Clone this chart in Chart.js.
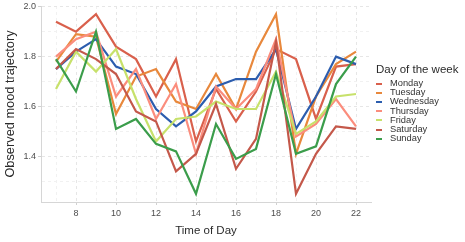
<!DOCTYPE html>
<html>
<head>
<meta charset="utf-8">
<script src="https://cdn.jsdelivr.net/npm/chart.js@4/dist/chart.umd.min.js"></script>
<style>
  html, body { margin: 0; padding: 0; background: #fff; }
  #wrap { position: relative; width: 465px; height: 242px; }
  #legend { position: absolute; left: 376px; top: 62px; font-family: 'Liberation Sans', Arial, sans-serif; color: #2b2b2b; }
  #legend .title { font-size: 11.5px; line-height: 14px; margin-bottom: 3px; }
  #legend .item { font-size: 9.3px; line-height: 9.2px; height: 9.2px; display: flex; align-items: center; color: #333; }
  #legend .key { width: 6px; height: 2px; margin-right: 8px; }
</style>
</head>
<body>
<div id="wrap">
  <canvas id="mood" width="465" height="242"></canvas>
  <div id="legend"></div>
</div>
<script>
// hours of the day on the x axis
const hours = [7, 8, 9, 10, 11, 12, 13, 14, 15, 16, 17, 18, 19, 20, 21, 22];
const days = ['Monday', 'Tuesday', 'Wednesday', 'Thursday', 'Friday', 'Saturday', 'Sunday'];
const dayColors = ['#d9604c', '#e8883c', '#2c5dae', '#fb8d7d', '#c7e16b', '#c4584a', '#3b9d4b'];

// observed mood trajectory per day
const monday    = [1.94, 1.90, 1.97, 1.84, 1.79, 1.64, 1.79, 1.46, 1.67, 1.54, 1.66, 1.83, 1.79, 1.55, 1.76, 1.77];
const tuesday   = [1.78, 1.89, 1.88, 1.57, 1.72, 1.75, 1.62, 1.59, 1.73, 1.59, 1.82, 1.97, 1.41, 1.64, 1.77, 1.82];
const wednesday = [1.75, 1.82, 1.87, 1.76, 1.73, 1.59, 1.52, 1.58, 1.68, 1.71, 1.71, 1.83, 1.51, 1.64, 1.80, 1.77];
const thursday  = [1.80, 1.87, 1.90, 1.64, 1.75, 1.55, 1.69, 1.41, 1.68, 1.59, 1.67, 1.87, 1.48, 1.53, 1.63, 1.52];
const friday    = [1.67, 1.82, 1.74, 1.83, 1.63, 1.46, 1.55, 1.56, 1.62, 1.59, 1.59, 1.74, 1.49, 1.54, 1.64, 1.65];
const saturday  = [1.75, 1.83, 1.79, 1.73, 1.58, 1.54, 1.34, 1.41, 1.61, 1.35, 1.47, 1.86, 1.25, 1.41, 1.52, 1.51];
const sunday    = [1.79, 1.66, 1.90, 1.51, 1.55, 1.45, 1.42, 1.25, 1.53, 1.39, 1.43, 1.73, 1.41, 1.44, 1.69, 1.80];
const series = [monday, tuesday, wednesday, thursday, friday, saturday, sunday];

// axis ticks (majors get labels, minors only a grid line)
const xTicks = [7, 8, 9, 10, 11, 12, 13, 14, 15, 16, 17, 18, 19, 20, 21, 22];
const yTicks = [1.3, 1.4, 1.5, 1.6, 1.7, 1.8, 1.9, 2.0];

const font = "'Liberation Sans', Arial, sans-serif";

const isMajorX = v => v % 2 === 0;
const isMajorY = v => Math.round(v * 10) % 2 === 0;

const datasets = days.map((d, i) => ({
  label: d,
  data: hours.map((h, j) => ({ x: h, y: series[i][j] })),
  borderColor: dayColors[i],
  borderWidth: 2.2,
  pointRadius: 0,
  tension: 0,
  fill: false,
  order: days.length - 1 - i
}));

new Chart(document.getElementById('mood'), {
  type: 'line',
  data: { datasets: datasets },
  options: {
    responsive: false,
    animation: false,
    layout: { padding: { top: 6, right: 94, left: 0, bottom: 0 } },
    plugins: { legend: { display: false }, tooltip: { enabled: false } },
    scales: {
      x: {
        type: 'linear',
        min: 6.25,
        max: 22.75,
        afterBuildTicks: axis => { axis.ticks = xTicks.map(v => ({ value: v })); },
        afterFit: axis => { axis.height = 40; axis.paddingLeft = 0; axis.paddingRight = 0; },
        grid: {
          drawTicks: true,
          tickLength: 3,
          color: c => (c.tick && isMajorX(c.tick.value)) ? '#e6e6e6' : '#f1f1f1',
          tickColor: c => (c.tick && isMajorX(c.tick.value)) ? '#d0d0d0' : 'rgba(0,0,0,0)',
          lineWidth: 1
        },
        border: { display: true, color: '#d6d6d6', width: 1, dash: [3, 3] },
        ticks: {
          autoSkip: false,
          maxRotation: 0,
          padding: 3,
          color: '#4d4d4d',
          font: { family: font, size: 9 },
          callback: v => (isMajorX(v) ? String(v) : '')
        },
        title: {
          display: true,
          text: 'Time of Day',
          color: '#2b2b2b',
          font: { family: font, size: 11.5 },
          padding: { top: 4, bottom: 4 }
        }
      },
      y: {
        min: 1.217,
        max: 2.003,
        afterBuildTicks: axis => { axis.ticks = yTicks.map(v => ({ value: v })); },
        afterFit: axis => { axis.width = 41; axis.paddingTop = 0; axis.paddingBottom = 0; },
        grid: {
          drawTicks: true,
          tickLength: 3,
          color: c => (c.tick && isMajorY(c.tick.value)) ? '#e6e6e6' : '#f1f1f1',
          tickColor: c => (c.tick && isMajorY(c.tick.value)) ? '#d0d0d0' : 'rgba(0,0,0,0)',
          lineWidth: 1
        },
        border: { display: true, color: '#d6d6d6', width: 1, dash: [3, 3] },
        ticks: {
          padding: 2,
          color: '#4d4d4d',
          font: { family: font, size: 9 },
          callback: v => (isMajorY(v) ? v.toFixed(1) : '')
        },
        title: {
          display: true,
          text: 'Observed mood trajectory',
          color: '#2b2b2b',
          font: { family: font, size: 12.8 },
          padding: { top: 3, bottom: 4 }
        }
      }
    }
  }
});

// legend
const legend = document.getElementById('legend');
let html = '<div class="title">Day of the week</div>';
days.forEach((d, i) => {
  html += '<div class="item"><span class="key" style="background:' + dayColors[i] + '"></span>' + d + '</div>';
});
legend.innerHTML = html;
</script>
</body>
</html>
